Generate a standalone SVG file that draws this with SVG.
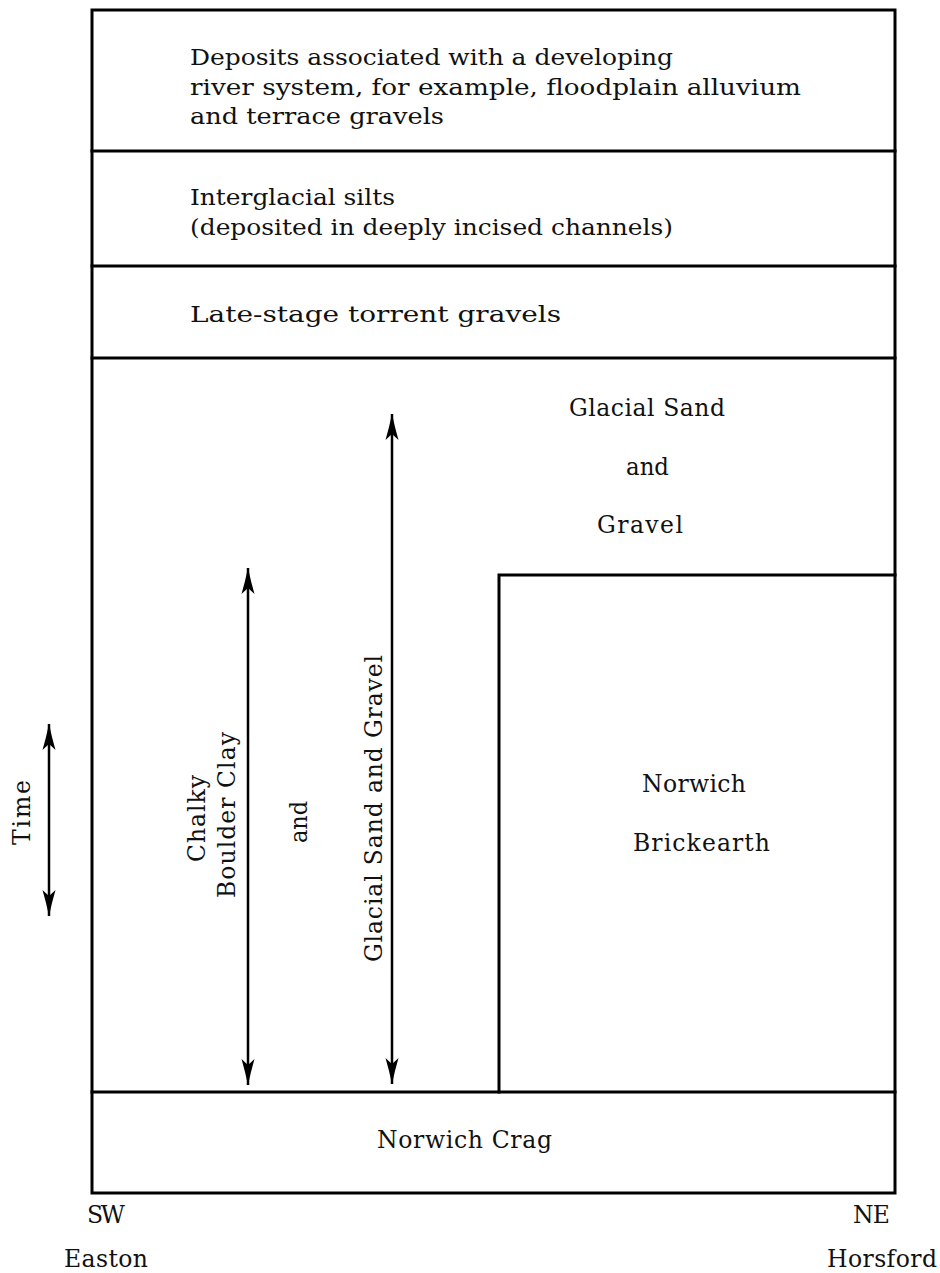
<svg xmlns="http://www.w3.org/2000/svg" width="940" height="1273" viewBox="0 0 940 1273">
  <defs>
    <style>
      .ln { stroke: #000; stroke-width: 3; fill: none; stroke-linecap: square; }
      .ar { stroke: #000; stroke-width: 2.5; fill: none; }
      .t { font-family: "DejaVu Serif", "Liberation Serif", serif; font-size: 22px; fill: #111; }
      .w { font-size: 23.5px; }
    </style>
    <!-- barbed arrowhead, tip at origin pointing along +x -->
    <marker id="head" markerUnits="userSpaceOnUse" markerWidth="30" markerHeight="16" viewBox="-27 -8 30 16" refX="0" refY="0" orient="auto-start-reverse" overflow="visible">
      <path d="M 0 0 Q -14 -3 -26 -6.5 L -20 0 L -26 6.5 Q -14 3 0 0 Z" fill="#000"/>
    </marker>
  </defs>
  <rect width="940" height="1273" fill="#fff"/>

  <!-- strata outlines -->
  <g id="frame">
    <rect class="ln" x="92" y="10" width="803" height="1183"/>
    <line class="ln" x1="92" y1="151" x2="895" y2="151"/>
    <line class="ln" x1="92" y1="266" x2="895" y2="266"/>
    <line class="ln" x1="92" y1="358" x2="895" y2="358"/>
    <line class="ln" x1="92" y1="1092" x2="895" y2="1092"/>
    <polyline class="ln" points="499,1092 499,575 895,575"/>
  </g>

  <g id="river-deposits">
    <text class="t" x="190" y="65" textLength="483" lengthAdjust="spacingAndGlyphs">Deposits associated with a developing</text>
    <text class="t" x="190" y="95" textLength="611" lengthAdjust="spacingAndGlyphs">river system, for example, floodplain alluvium</text>
    <text class="t" x="190" y="124" textLength="254" lengthAdjust="spacingAndGlyphs">and terrace gravels</text>
  </g>

  <g id="interglacial-silts">
    <text class="t" x="190" y="205" textLength="205" lengthAdjust="spacingAndGlyphs">Interglacial silts</text>
    <text class="t" x="190" y="235" textLength="483" lengthAdjust="spacingAndGlyphs">(deposited in deeply incised channels)</text>
  </g>

  <g id="torrent-gravels">
    <text class="t" x="190" y="322" textLength="371" lengthAdjust="spacingAndGlyphs">Late-stage torrent gravels</text>
  </g>

  <g id="glacial-sand-gravel">
    <text class="t w" x="569" y="416" textLength="156" lengthAdjust="spacing">Glacial Sand</text>
    <text class="t w" x="626" y="475" textLength="43" lengthAdjust="spacingAndGlyphs">and</text>
    <text class="t w" x="597" y="533" textLength="86" lengthAdjust="spacing">Gravel</text>
  </g>

  <g id="norwich-brickearth">
    <text class="t w" x="642" y="792" textLength="104" lengthAdjust="spacing">Norwich</text>
    <text class="t w" x="633" y="851" textLength="137" lengthAdjust="spacing">Brickearth</text>
  </g>

  <g id="chalky-boulder-clay">
    <text class="t w" transform="translate(205,862) rotate(-90)" textLength="87" lengthAdjust="spacing">Chalky</text>
    <text class="t w" transform="translate(235,898) rotate(-90)" textLength="166" lengthAdjust="spacing">Boulder Clay</text>
    <text class="t w" transform="translate(307,843) rotate(-90)" textLength="42" lengthAdjust="spacingAndGlyphs">and</text>
    <text class="t w" transform="translate(382,962) rotate(-90)" textLength="307" lengthAdjust="spacing">Glacial Sand and Gravel</text>
  </g>

  <g id="norwich-crag">
    <text class="t w" x="377" y="1148" textLength="175" lengthAdjust="spacing">Norwich Crag</text>
  </g>

  <g id="time-axis">
    <text class="t w" transform="translate(30,845) rotate(-90)" textLength="65" lengthAdjust="spacing">Time</text>
  </g>

  <g id="section-ends">
    <text class="t w" x="87" y="1223" textLength="38" lengthAdjust="spacing">SW</text>
    <text class="t w" x="853" y="1223" textLength="37" lengthAdjust="spacing">NE</text>
    <text class="t w" x="64" y="1267" textLength="84" lengthAdjust="spacing">Easton</text>
    <text class="t w" x="827" y="1267" textLength="110" lengthAdjust="spacing">Horsford</text>
  </g>

  <!-- range arrows -->
  <g id="connectors">
    <line class="ar" x1="248" y1="1085" x2="248" y2="568" marker-start="url(#head)" marker-end="url(#head)"/>
    <line class="ar" x1="392" y1="1084" x2="392" y2="414" marker-start="url(#head)" marker-end="url(#head)"/>
    <line class="ar" x1="49" y1="916" x2="49" y2="724" marker-start="url(#head)" marker-end="url(#head)"/>
  </g>
</svg>
